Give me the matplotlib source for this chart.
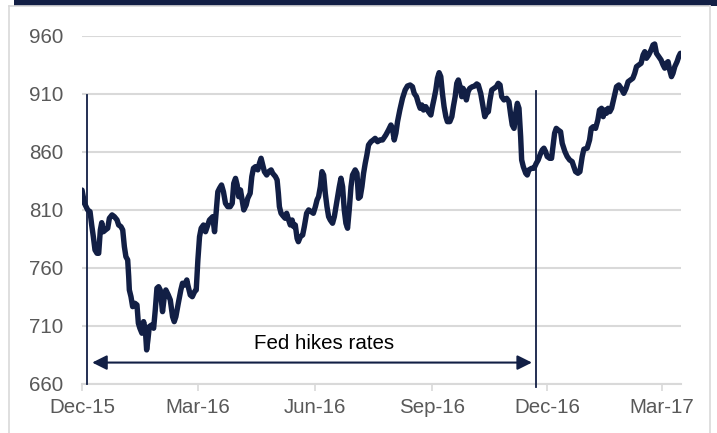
import matplotlib
matplotlib.use("Agg")
import matplotlib.pyplot as plt
import matplotlib.patches as mpatches
import pandas as pd

# days since 2015-12-01
days = [0, 1.9, 4.5, 6.3, 7.6, 8.9, 10.2, 11.8, 13.1, 14.4, 15.5, 16.8, 18.4, 20.2, 21.5, 23.6,
        25.4, 27.5, 28.8, 30.6, 32.0, 33.3, 34.5, 35.9, 36.7, 37.2, 38.5, 39.8, 41.6, 43.2, 44.3,
        45.5, 47.1, 48.4, 49.8, 50.8, 51.8, 52.9, 54.7, 56.3, 57.6, 58.9, 60.2, 61.5, 63.3, 64.7,
        65.9, 67.8, 69.4, 71.2, 72.5, 73.8, 75.7, 77.7, 79.0, 80.6, 82.4, 83.2, 85.1, 86.7, 88.5,
        89.8, 91.1, 92.4, 93.7, 95.5, 97.1, 98.9, 100.2, 101.6, 102.8, 104.2, 105.5, 106.8, 108.1,
        109.7, 111.2, 112.8, 114.6, 116.5, 118.1, 119.3, 120.7, 122.0, 123.2, 124.6, 125.9, 127.2,
        129.1, 130.3, 132.2, 133.5, 134.8, 136.4, 138.2, 139.5, 140.8, 142.1, 143.4, 145.2, 146.8,
        148.7, 149.9, 152.1, 153.4, 154.4, 155.2, 156.5, 157.8, 159.7, 160.9, 162.5, 163.8, 165.2,
        166.4, 167.7, 169.1, 170.1, 171.7, 173.5, 174.8, 176.6, 178.2, 180.1, 181.9, 183.5, 184.8,
        186.0, 187.4, 188.7, 190.0, 191.3, 192.6, 193.9, 195.2, 197.0, 198.4, 199.7, 201.0, 202.3,
        203.6, 204.9, 206.2, 207.5, 208.8, 210.1, 211.5, 212.7, 214.8, 216.2, 217.4, 218.8, 220.1,
        221.4, 222.7, 224.0, 225.3, 227.2, 229.0, 230.5, 232.4, 234.2, 236.3, 238.9, 241.0, 242.9,
        244.1, 245.5, 246.8, 248.1, 249.9, 252.0, 254.1, 255.9, 258.0, 259.8, 261.2, 263.0, 264.5,
        265.9, 267.2, 268.5, 270.3, 272.4, 274.3, 275.5, 276.9, 278.2, 279.5, 280.8, 282.1, 283.4,
        284.7, 286.1, 287.3, 289.2, 290.8, 292.0, 293.4, 294.7, 295.9, 297.3, 298.6, 299.6, 301.0,
        302.2, 303.6, 304.9, 306.9, 308.8, 310.4, 311.6, 313.5, 315.3, 316.7, 317.9, 319.5, 320.8,
        322.2, 324.0, 325.8, 327.3, 328.7, 330.0, 331.8, 333.9, 335.7, 337.1, 338.3, 339.7, 341.0,
        342.3, 343.6, 344.9, 345.7, 347.0, 348.9, 350.1, 351.4, 353.6, 355.4, 357.2, 358.7, 360.1,
        361.9, 363.2, 364.5, 365.8, 367.7, 369.2, 370.3, 371.6, 372.9, 374.4, 376.3, 377.6, 379.7,
        381.5, 383.4, 385.4, 386.7, 388.1, 389.9, 391.5, 393.3, 394.6, 397.2, 399.1, 400.4, 401.9,
        403.8, 405.6, 406.9, 408.5, 409.8, 411.1, 412.4, 413.7, 415.0, 416.4, 417.6, 418.9, 420.3,
        422.1, 423.9, 426.0, 427.8, 429.4, 431.3, 433.1, 434.6, 436.0, 437.8, 439.6, 441.2, 442.5,
        443.8, 445.6, 447.5, 449.0, 450.3, 451.7, 453.5, 455.3, 456.9, 458.2, 459.5, 460.8, 462.1,
        463.5, 464.7, 466.1, 467.9, 469.2, 470.5]

values = [826.9, 815.5, 809.7, 808.3, 796.8, 786.7, 775.3, 772.4, 772.4, 792.5, 798.8, 791.0, 792.5,
          794.0, 802.6, 805.5, 804.0, 801.2, 796.8, 795.4, 792.5, 778.1, 769.5, 766.7, 752.3, 740.8,
          735.0, 726.4, 729.3, 727.9, 712.1, 707.8, 703.5, 713.5, 706.3, 689.1, 697.7, 709.2, 710.6,
          707.8, 723.6, 742.3, 743.6, 740.8, 722.1, 735.0, 740.8, 736.5, 732.2, 717.8, 713.5, 717.8,
          729.3, 740.8, 746.6, 745.1, 749.4, 745.1, 736.5, 735.0, 739.3, 740.8, 766.7, 786.7, 794.0,
          796.8, 791.0, 796.8, 801.1, 802.6, 804.0, 791.0, 808.3, 825.5, 828.4, 831.3, 825.5, 815.5,
          812.6, 812.6, 815.5, 832.7, 837.0, 831.3, 821.2, 827.0, 818.4, 809.8, 814.1, 819.8, 824.1,
          838.5, 845.7, 847.1, 844.3, 850.0, 854.3, 848.5, 842.8, 839.9, 842.8, 844.3, 841.4, 838.5,
          835.6, 824.1, 812.6, 806.9, 805.0, 802.6, 806.9, 801.0, 796.8, 801.1, 795.4, 796.8, 785.3,
          782.4, 786.7, 788.2, 795.4, 806.9, 809.8, 808.3, 806.9, 812.6, 818.4, 821.2, 829.8, 842.8,
          839.9, 824.1, 812.6, 804.0, 801.1, 798.3, 804.0, 812.6, 821.2, 829.8, 837.1, 829.8, 809.8,
          798.3, 794.0, 809.8, 829.8, 839.9, 844.3, 841.4, 819.8, 821.2, 829.8, 841.4, 850.0, 857.2,
          865.8, 868.6, 870.1, 871.5, 868.6, 870.1, 870.1, 874.4, 878.7, 883.0, 880.1, 870.1, 875.9,
          885.9, 895.9, 906.0, 913.2, 916.6, 917.5, 916.0, 910.3, 907.4, 901.7, 897.4, 900.3, 895.9,
          898.8, 894.5, 891.6, 898.8, 906.0, 913.2, 923.3, 928.1, 924.7, 910.3, 898.8, 890.2, 885.9,
          885.9, 890.2, 898.8, 907.4, 919.0, 921.8, 916.0, 907.4, 914.6, 911.7, 904.6, 911.7, 914.6,
          916.0, 916.6, 918.4, 917.5, 910.3, 898.8, 890.2, 893.1, 894.5, 904.6, 913.2, 914.6, 916.0,
          918.9, 917.5, 907.4, 904.6, 906.0, 903.1, 891.6, 883.0, 880.1, 893.1, 901.7, 897.4, 873.0,
          852.9, 847.1, 841.4, 839.9, 844.3, 845.7, 845.7, 850.0, 852.9, 857.2, 861.5, 863.0, 860.1,
          855.8, 854.3, 854.3, 864.4, 875.9, 880.1, 878.7, 877.2, 867.2, 860.1, 855.8, 852.9, 851.4,
          847.1, 842.8, 841.4, 842.8, 855.8, 862.1, 863.0, 870.1, 880.1, 881.5, 880.1, 887.3, 895.9,
          897.4, 890.2, 895.9, 893.1, 897.4, 894.5, 897.4, 903.1, 908.9, 916.0, 917.5, 914.6, 910.3,
          914.6, 920.3, 921.8, 923.3, 927.6, 933.3, 934.8, 936.2, 943.4, 946.2, 940.5, 943.4, 947.7,
          952.0, 952.8, 944.8, 941.9, 939.1, 934.8, 932.0, 936.2, 937.6, 930.4, 924.7, 927.6, 933.3,
          937.6, 941.9, 944.8]

tick_days = [0, 91, 183, 275, 366, 456]
tick_labels = ["Dec-15", "Mar-16", "Jun-16", "Sep-16", "Dec-16", "Mar-17"]
y_ticks = [660, 710, 760, 810, 860, 910, 960]
hike_days = [3.7, 356.7]
annot_text = "Fed hikes rates"

navy = "#121f45"
grid_c = "#d9d9d9"
tick_c = "#595959"

plt.rcParams['font.family'] = ['Liberation Sans', 'DejaVu Sans']

fig = plt.figure(figsize=(7.17, 4.33), dpi=100)
ax = fig.add_axes([0.1144, 0.1139, 0.8354, 0.8037])

ax.plot(days, values, color=navy, lw=3.9, solid_joinstyle='round', solid_capstyle='round', zorder=3)

ax.set_xlim(0, 471)
ax.set_ylim(660, 960)
ax.set_yticks(y_ticks)
ax.set_xticks(tick_days)
ax.set_xticklabels(tick_labels)
ax.grid(axis='y', color=grid_c, lw=1.5, zorder=0)
ax.set_axisbelow(True)
for s in ['top', 'right', 'left']:
    ax.spines[s].set_visible(False)
ax.spines['bottom'].set_color(grid_c)
ax.spines['bottom'].set_linewidth(1.5)
ax.tick_params(axis='y', length=0, pad=13.5, labelsize=14.8, labelcolor=tick_c)
ax.tick_params(axis='x', length=5, width=1.2, color=grid_c, pad=5, labelsize=14.8, labelcolor=tick_c)

# vertical lines for hikes
ax.plot([hike_days[0], hike_days[0]], [660, 909], color=navy, lw=1.3, zorder=4, clip_on=False)
ax.plot([hike_days[1], hike_days[1]], [657, 912.5], color=navy, lw=1.3, zorder=4, clip_on=False)

ax.annotate("", xy=(8.0, 678.2), xytext=(353.8, 678.2),
            arrowprops=dict(arrowstyle='<|-|>', color=navy, lw=1.5, mutation_scale=22,
                            shrinkA=0, shrinkB=0), zorder=4)
ax.text(190, 694.3, annot_text, ha='center', va='center', fontsize=14.8, color='black')

# decorative frame
fig.patches.append(mpatches.Rectangle((14 / 717, 1 - 5.5 / 433), 1 - 14 / 717, 5.5 / 433,
                                      transform=fig.transFigure, color=navy, lw=0))
fig.lines.append(plt.Line2D([9 / 717, 9 / 717], [0, 1 - 6 / 433], transform=fig.transFigure,
                            color=grid_c, lw=1.2))
fig.lines.append(plt.Line2D([710 / 717, 710 / 717], [0, 1 - 6 / 433], transform=fig.transFigure,
                            color=grid_c, lw=1.2))
fig.lines.append(plt.Line2D([9 / 717, 710 / 717], [1 - 6 / 433, 1 - 6 / 433], transform=fig.transFigure,
                            color=grid_c, lw=1.2))

fig.savefig("out.png", dpi=100)
